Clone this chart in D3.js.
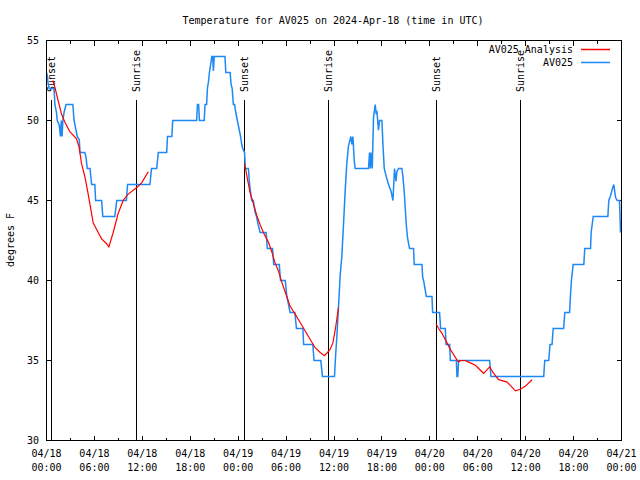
<!DOCTYPE html>
<html><head><meta charset="utf-8">
<script src="https://cdn.jsdelivr.net/npm/d3@7/dist/d3.min.js"></script>
<style>body{margin:0;background:#fff}text{font-family:"DejaVu Sans Mono","Liberation Mono",monospace;font-size:10px;fill:#000}</style>
</head><body><svg id="c" width="640" height="480"></svg>
<script>
// observations: [hours since 2024-04-18 00:00 UTC, degrees F]
const obsDay1 = [[0,53],[0.1,52.8],[0.2,52.3],[0.35,52],[0.95,52],[1.05,51],[1.25,50.5],[1.35,50],[1.6,49.7],[1.75,49],[1.85,50],[1.95,49],[2.05,50],[2.2,50.5],[2.45,51],[3.3,51],[3.45,50],[3.65,49.5],[3.85,49],[4.1,48.8],[4.2,48],[4.8,48],[4.95,47.7],[5.1,47],[5.45,47],[5.55,46.5],[5.65,46],[6.05,46],[6.15,45],[6.9,45],[7.05,44],[8.55,44],[8.8,45],[10.0,45],[10.15,46],[12.95,46],[13.15,47],[13.8,47],[14.0,48],[15.05,48],[15.15,49],[15.7,49],[15.8,50],[18.8,50],[18.9,51],[19.05,51],[19.15,50],[19.75,50],[19.85,51],[20.05,51],[20.15,52],[20.3,52.5],[20.4,53],[20.55,53.5],[20.7,54],[20.8,54],[20.9,53.1],[21.0,54],[22.35,54],[22.45,53],[23.0,53],[23.1,52.3],[23.25,52],[23.4,51],[23.55,51],[23.7,50.5],[23.9,50]];
const obsDay2 = [[24.1,49.5],[24.3,49],[24.45,48.5],[24.6,48.2],[24.8,48],[24.9,47],[25.28,47],[25.4,46.2],[25.5,45.7],[25.7,45],[25.9,45],[26.1,44.3],[26.3,44],[26.5,43.5],[26.75,43],[27.5,43],[27.65,42],[28.3,42],[28.45,41],[29.15,41],[29.3,40],[29.9,40],[30.1,39],[30.5,38],[31.1,38],[31.3,37],[32.1,37],[32.2,36],[33.35,36],[33.5,35],[34.35,35],[34.55,34],[36.06,34],[36.2,35.3],[36.36,36.5],[36.56,38.3],[36.77,40.3],[36.98,41.5],[37.19,43.5],[37.4,45.6],[37.6,47.3],[37.81,48.4],[38.11,49],[38.24,48.5],[38.37,49],[38.53,47.5],[38.65,47],[40.32,47],[40.45,48],[40.55,47],[40.62,48],[40.79,47],[40.95,50.2],[41.16,51],[41.29,50.4],[41.37,50.6],[41.57,49.4],[41.7,50],[42.0,50],[42.13,48.5],[42.29,47],[42.54,46.5],[42.83,46],[43.13,45.6],[43.38,45],[43.58,47],[43.76,46.2],[43.88,46.8],[44.08,47],[44.5,47],[44.63,46.5],[44.8,45.5],[45.05,43.5],[45.2,42.7],[45.34,42.3],[45.46,42],[45.96,42],[46.05,41],[47.02,41],[47.1,40.2],[47.22,40],[47.56,39]];
const obsDay3 = [[48.27,39],[48.35,38],[49.22,38],[49.35,37],[49.94,37],[50.03,36],[50.48,36],[50.57,35],[51.32,35],[51.4,34],[51.5,34],[51.6,35],[55.49,35],[55.65,34],[62.26,34],[62.39,35],[62.89,35],[63.05,36],[63.3,36],[63.45,37],[64.75,37],[64.9,38],[65.5,38],[65.6,39],[65.73,40],[65.95,41],[67.28,41],[67.4,42],[68.12,42],[68.2,43],[68.46,44],[70.29,44],[70.41,45],[70.63,45.3],[70.84,45.7],[71.04,46],[71.25,45.2],[71.46,45],[71.75,45],[71.88,43]];
// analysis segments
const anaHours1 = [0.79,1.04,1.45,1.88,2.29,2.71,2.92,3.76,4.09,4.39,4.8,5.22,5.64,5.84,6.47,6.9,7.52,7.81,8.35,8.98,9.6,10.23,11.28,11.91,12.74];
const anaTemps1 = [52.5,52.1,51.25,50.4,49.9,49.5,49.3,48.85,48.3,47.3,46.5,45.4,44.2,43.6,43.0,42.6,42.3,42.1,43.0,44.2,45.0,45.4,45.8,46.1,46.8];
const anaHours2 = [24.8,25.49,25.9,26.33,26.74,27.16,27.78,28.21,28.62,29.04,29.46,29.88,30.5,31.13,31.97,32.8,33.64,34.27,34.8,35.18,35.52,35.86,36.15,36.36,36.56];
const anaTemps2 = [47.3,45.5,44.8,44.06,43.5,43.0,42.4,41.8,41.1,40.6,39.9,39.3,38.4,37.9,37.2,36.5,35.8,35.5,35.3,35.5,35.7,36.1,36.9,37.6,38.3];
const anaHours3 = [48.77,49.1,49.52,50.15,50.56,51.19,51.6,51.82,52.44,52.86,53.7,54.11,54.74,55.49,55.99,56.62,57.67,58.17,58.71,59.34,59.97,60.81];
const anaTemps3 = [37.3,37.0,36.7,36.1,35.7,35.2,34.9,35.0,35.0,34.9,34.7,34.5,34.2,34.6,34.2,33.8,33.65,33.4,33.1,33.2,33.4,33.8];
const sunHours = [0.66,11.32,24.8,35.3,48.8,59.34];
const sunLabels = ["Sunset","Sunrise","Sunset","Sunrise","Sunset","Sunrise"];
const xTickHours = [0,6,12,18,24,30,36,42,48,54,60,66,72];
const xTickDates = ["04/18","04/18","04/18","04/18","04/19","04/19","04/19","04/19","04/20","04/20","04/20","04/20","04/21"];
const xTickTimes = ["00:00","06:00","12:00","18:00","00:00","06:00","12:00","18:00","00:00","06:00","12:00","18:00","00:00"];
const yTicks = [30,35,40,45,50,55];
const titleText = "Temperature for AV025 on 2024-Apr-18 (time in UTC)";
const seriesNames = ["AV025 Analysis","AV025"];

const svg = d3.select("#c");
const L=46.5,R=621.5,T=40.5,B=440.5;
const x = d3.scaleLinear().domain([0,72]).range([L,R]);
const y = d3.scaleLinear().domain([30,55]).range([B,T]);
const blue="#1e88f5", red="#ff0000";
const px = v=>Math.round(v-0.5)+0.5;

svg.append("text").attr("x",333).attr("y",23.5).attr("text-anchor","middle").text(titleText);

const g = svg.append("g").attr("stroke","#000").attr("stroke-width",1).attr("shape-rendering","crispEdges");
d3.range(0,73,3).forEach(h=>{
  const len = h%6===0?5:3;
  g.append("line").attr("x1",px(x(h))).attr("x2",px(x(h))).attr("y1",B).attr("y2",B-len);
  g.append("line").attr("x1",px(x(h))).attr("x2",px(x(h))).attr("y1",T).attr("y2",T+len);
});
yTicks.forEach(v=>{
  g.append("line").attr("x1",L).attr("x2",L+5).attr("y1",px(y(v))).attr("y2",px(y(v)));
  g.append("line").attr("x1",R).attr("x2",R-5).attr("y1",px(y(v))).attr("y2",px(y(v)));
});
svg.append("g").selectAll("text").data(yTicks).join("text")
  .attr("x",39).attr("y",d=>y(d)).attr("dy","0.35em").attr("text-anchor","end").text(d=>d);
xTickHours.forEach((h,i)=>{
  svg.append("text").attr("x",x(h)).attr("y",457).attr("text-anchor","middle").text(xTickDates[i]);
  svg.append("text").attr("x",x(h)).attr("y",471).attr("text-anchor","middle").text(xTickTimes[i]);
});
svg.append("text").attr("transform","translate(14,240) rotate(-90)").attr("text-anchor","middle").text("degrees F");

sunHours.forEach((h,i)=>{
  svg.append("line").attr("x1",px(x(h))).attr("x2",px(x(h))).attr("y1",y(51.3)).attr("y2",B)
    .attr("stroke","#000").attr("stroke-width",1).attr("shape-rendering","crispEdges");
  svg.append("text").attr("transform",`translate(${x(h)+3.5},92) rotate(-90)`).text(sunLabels[i]);
});

const line = d3.line().x(d=>x(d[0])).y(d=>y(d[1]));
const obs = obsDay1.concat(obsDay2, obsDay3);
svg.append("path").attr("d",line(obs)).attr("fill","none").attr("stroke",blue).attr("stroke-width",1.5);
[[anaHours1,anaTemps1],[anaHours2,anaTemps2],[anaHours3,anaTemps3]].forEach(([h,t])=>{
  svg.append("path").attr("d",line(d3.zip(h,t))).attr("fill","none").attr("stroke",red).attr("stroke-width",1.2);
});

svg.append("rect").attr("x",L).attr("y",T).attr("width",R-L).attr("height",B-T)
  .attr("fill","none").attr("stroke","#000").attr("shape-rendering","crispEdges");

const legY=[49.5,62.5];
const legC=[red,blue];
seriesNames.forEach((n,i)=>{
  svg.append("text").attr("x",573).attr("y",legY[i]).attr("dy","0.35em").attr("text-anchor","end").text(n);
  svg.append("line").attr("x1",581).attr("x2",610).attr("y1",legY[i]).attr("y2",legY[i])
    .attr("stroke",legC[i]).attr("stroke-width",1.5);
});
</script></body></html>
